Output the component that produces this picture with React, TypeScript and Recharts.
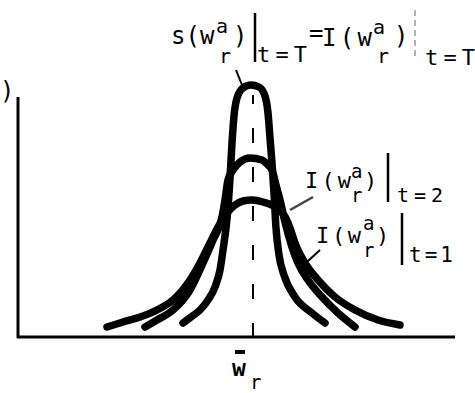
import { LineChart, Line, XAxis, YAxis, ReferenceLine } from "recharts";

// curve points: x = offset from the centre line, y = height above the axis
const curveTfinal = [
  { x: -70, y: 15 }, { x: -62, y: 21 }, { x: -53, y: 28 }, { x: -45, y: 38 },
  { x: -38, y: 51 }, { x: -33, y: 68 }, { x: -30, y: 88 }, { x: -27, y: 110 },
  { x: -25, y: 130 }, { x: -23, y: 160 }, { x: -21, y: 195 }, { x: -19, y: 222 },
  { x: -16, y: 240 }, { x: -10, y: 250 }, { x: -2, y: 253 }, { x: 6, y: 251 },
  { x: 12, y: 242 }, { x: 15, y: 225 }, { x: 17, y: 200 }, { x: 19, y: 175 },
  { x: 21, y: 145 }, { x: 23, y: 110 }, { x: 26, y: 83 }, { x: 31, y: 63 },
  { x: 42, y: 41 }, { x: 59, y: 25 }, { x: 72, y: 15 },
];

const curveT2 = [
  { x: -108, y: 11 }, { x: -96, y: 18 }, { x: -80, y: 28 }, { x: -63, y: 48 },
  { x: -50, y: 75 }, { x: -40, y: 98 }, { x: -31, y: 121 }, { x: -28, y: 138 },
  { x: -25, y: 158 }, { x: -20, y: 168 }, { x: -13, y: 176 }, { x: -3, y: 180 },
  { x: 9, y: 178 }, { x: 15, y: 173 }, { x: 19, y: 168 }, { x: 23, y: 153 },
  { x: 27, y: 138 }, { x: 32, y: 116 }, { x: 39, y: 91 }, { x: 45, y: 75 },
  { x: 55, y: 58 }, { x: 69, y: 41 }, { x: 85, y: 25 }, { x: 102, y: 11 },
];

const curveT1 = [
  { x: -146, y: 11 }, { x: -130, y: 16 }, { x: -113, y: 21 }, { x: -96, y: 28 },
  { x: -80, y: 38 }, { x: -63, y: 58 }, { x: -53, y: 75 }, { x: -43, y: 95 },
  { x: -35, y: 111 }, { x: -26, y: 125 }, { x: -18, y: 133 }, { x: -10, y: 137 },
  { x: -1, y: 138 }, { x: 10, y: 136 }, { x: 24, y: 130 }, { x: 31, y: 123 },
  { x: 37, y: 110 }, { x: 42, y: 95 }, { x: 52, y: 75 }, { x: 65, y: 58 },
  { x: 82, y: 41 }, { x: 102, y: 28 }, { x: 125, y: 18 }, { x: 147, y: 13 },
];

const X_DOMAIN = [-243, 212];
const Y_DOMAIN = [-7, 328];

const FONT = "DejaVu Sans Mono";

export default function App() {
  const lineProps = {
    type: "monotone" as const,
    dataKey: "y",
    stroke: "#000",
    strokeWidth: 7.5,
    strokeLinecap: "round" as const,
    dot: false,
    activeDot: false,
    isAnimationActive: false,
  };

  return (
    <div style={{ position: "relative", width: 475, height: 393, background: "#fff" }}>
      <style>{`body{margin:0}`}</style>
      <LineChart
        width={475}
        height={393}
        margin={{ top: 10, right: 10, bottom: 48, left: 10 }}
      >
        <XAxis type="number" dataKey="x" domain={X_DOMAIN} hide allowDataOverflow />
        <YAxis type="number" domain={Y_DOMAIN} hide allowDataOverflow />

        {/* axes */}
        <ReferenceLine
          segment={[{ x: -235, y: 0 }, { x: -235, y: 241 }]}
          stroke="#000"
          strokeWidth={3}
          ifOverflow="visible"
        />
        <ReferenceLine
          segment={[{ x: -236, y: 1 }, { x: 202, y: 1 }]}
          stroke="#000"
          strokeWidth={3}
          ifOverflow="visible"
        />

        {/* centre line */}
        <ReferenceLine
          segment={[{ x: 0, y: 0 }, { x: 0, y: 243 }]}
          stroke="#000"
          strokeWidth={2}
          strokeDasharray="15 24"
          ifOverflow="visible"
        />

        <Line data={curveT1} {...lineProps} />
        <Line data={curveT2} {...lineProps} />
        <Line data={curveTfinal} {...lineProps} />

        {/* leaders */}
        <ReferenceLine
          segment={[{ x: -17, y: 268 }, { x: -11, y: 253 }]}
          stroke="#000"
          strokeWidth={2}
          ifOverflow="visible"
        />
        <ReferenceLine
          segment={[{ x: 60, y: 141 }, { x: 37, y: 128 }]}
          stroke="#444"
          strokeWidth={2.5}
          ifOverflow="visible"
        />
        <ReferenceLine
          segment={[{ x: 67, y: 88 }, { x: 55, y: 77 }]}
          stroke="#000"
          strokeWidth={2}
          ifOverflow="visible"
        />
      </LineChart>

      <svg
        width={475}
        height={393}
        style={{ position: "absolute", left: 0, top: 0, pointerEvents: "none" }}
        fontFamily={FONT}
        fill="#000"
      >
        {/* y label, only its closing bracket is left */}
        <text x={0} y={99} fontSize={24}>)</text>

        {/* top label */}
        <text x={171} y={44} fontSize={24}>s(w</text>
        <text x={216} y={33} fontSize={20}>a</text>
        <text x={219} y={63} fontSize={20}>r</text>
        <text x={233} y={44} fontSize={24}>)</text>
        <line x1={255} y1={13} x2={255} y2={62} stroke="#000" strokeWidth={2.5} />
        <text x={257} y={62} fontSize={22} textLength={50} lengthAdjust="spacing">t=T</text>
        <text x={309} y={41} fontSize={24}>=</text>
        <text x={322} y={46} fontSize={24} textLength={50} lengthAdjust="spacing">I(w</text>
        <text x={373} y={34} fontSize={20}>a</text>
        <text x={377} y={63} fontSize={20}>r</text>
        <text x={394} y={44} fontSize={24}>)</text>
        <line x1={415} y1={10} x2={415} y2={58} stroke="#999" strokeWidth={1.5} strokeDasharray="6 4" />
        <text x={425} y={65} fontSize={22} textLength={50} lengthAdjust="spacing">t=T</text>

        {/* t = 2 label */}
        <text x={305} y={188} fontSize={22} textLength={46} lengthAdjust="spacing">I(w</text>
        <text x={351} y={178} fontSize={19}>a</text>
        <text x={351} y={202} fontSize={19}>r</text>
        <text x={364} y={188} fontSize={22}>)</text>
        <line x1={388} y1={153} x2={388} y2={202} stroke="#000" strokeWidth={2.5} />
        <text x={397} y={202} fontSize={20} textLength={46} lengthAdjust="spacing">t=2</text>

        {/* t = 1 label */}
        <text x={316} y={243} fontSize={22} textLength={45} lengthAdjust="spacing">I(w</text>
        <text x={363} y={230} fontSize={19}>a</text>
        <text x={363} y={257} fontSize={19}>r</text>
        <text x={376} y={243} fontSize={22}>)</text>
        <line x1={402} y1={213} x2={402} y2={265} stroke="#000" strokeWidth={2.5} />
        <text x={409} y={262} fontSize={21} textLength={44} lengthAdjust="spacing">t=1</text>

        {/* x label */}
        <line x1={235} y1={352} x2={245} y2={352} stroke="#000" strokeWidth={4} />
        <text x={232} y={376} fontSize={23} fontWeight="bold">w</text>
        <text x={250} y={389} fontSize={19}>r</text>
      </svg>
    </div>
  );
}
